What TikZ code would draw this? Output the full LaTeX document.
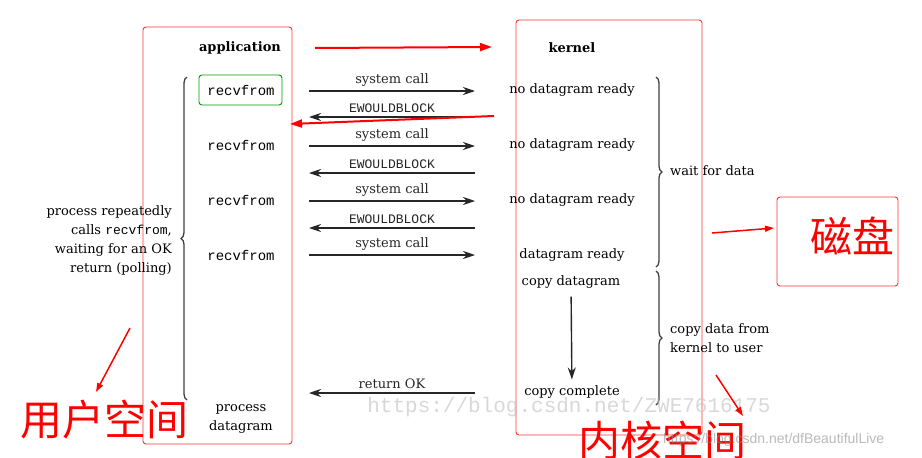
\documentclass[tikz,border=0pt]{standalone}
\usepackage{fontspec}
\setmainfont{DejaVu Serif}
\setmonofont{Liberation Mono}
\newfontfamily\cjk{Noto Sans CJK SC}
\newfontfamily\wmsans{Liberation Sans}
\usetikzlibrary{arrows.meta,positioning,decorations.pathreplacing}

\begin{document}
\begin{tikzpicture}[x=1pt, y=-1pt,
      txt/.style={inner sep=0pt, font=\fontsize{13}{19}\selectfont},
      hd/.style={inner sep=0pt, font=\bfseries\fontsize{13}{15}\selectfont},
      code/.style={inner sep=0pt, font=\ttfamily\fontsize{14}{16}\selectfont},
      err/.style={inner sep=0pt, font=\ttfamily\fontsize{13}{15}\selectfont},
      region/.style={draw=red!80, line width=0.9pt, rounded corners=3pt},
      cur/.style={draw=green!60!black, line width=0.9pt, rounded corners=3pt, inner sep=0pt},
      cjklabel/.style={inner sep=0pt, text=red, font=\cjk\fontsize{42}{44}\selectfont},
      call/.style={-{Stealth[length=12pt,width=8pt]}, line width=1.4pt, black!85},
      brace/.style={decorate, decoration={brace, amplitude=6pt}, line width=1.3pt, black!75},
      redarr/.style={-{Triangle[length=12pt,width=8pt]}, line width=2pt, red},
      redsmall/.style={-{Triangle[length=9pt,width=6pt]}, line width=1.5pt, red},
      wm/.style={inner sep=0pt, opacity=0.6}
    ]
    \useasboundingbox (0,0) rectangle (922,458);
    \fill[white] (0,0) rectangle (922,458);

    % the two address spaces and the disk
    \node[region, minimum width=149pt, minimum height=417pt] (appbox) at (217.5,235.5) {};
    \node[region, minimum width=186pt, minimum height=415pt] (kbox) at (609,227.5) {};
    \node[region, minimum width=121pt, minimum height=89pt] (diskbox) at (837.5,241.5) {};
    \node[cjklabel] (disk) at (852,236) {磁盘};

    % column heads
    \node[hd] (app) at (240,48) {application};
    \node[hd] (kern) at (572,48) {kernel};

    % application side
    \node[code] (rf1) at (241,90) {recvfrom};
    \node[cur, minimum width=83pt, minimum height=30pt] (rfbox) at (240.5,90) {};
    \node[code] (rf2) at (241,145) {recvfrom};
    \node[code] (rf3) at (241,200) {recvfrom};
    \node[code] (rf4) at (241,255) {recvfrom};
    \node[txt, align=center] (proc) at (241,419) {process\\datagram};

    \node[txt, align=right, anchor=east] (poll) at (172,241)
      {process repeatedly\\calls {\ttfamily recvfrom},\\waiting for an OK\\return (polling)};

    % kernel side
    \node[txt] (nd1) at (572,90) {no datagram ready};
    \node[txt] (nd2) at (572,145) {no datagram ready};
    \node[txt] (nd3) at (572,200) {no datagram ready};
    \node[txt] (dr) at (572,255) {datagram ready};
    \node[txt] (cd) at (571,282) {copy datagram};
    \node[txt] (cc) at (572,392) {copy complete};

    \node[txt, anchor=west] (wait) at (670,171) {wait for data};
    \node[txt, anchor=west, align=left] (copy) at (670,338) {copy data from\\kernel to user};

    % ends of the calls between the two columns
    \coordinate (c1a) at (309,91);  \coordinate (c1b) at (475,91);
    \coordinate (e1a) at (475,117); \coordinate (e1b) at (309,117);
    \coordinate (c2a) at (309,146); \coordinate (c2b) at (475,146);
    \coordinate (e2a) at (475,173); \coordinate (e2b) at (309,173);
    \coordinate (c3a) at (309,201); \coordinate (c3b) at (475,201);
    \coordinate (e3a) at (475,228); \coordinate (e3b) at (309,228);
    \coordinate (c4a) at (309,255); \coordinate (c4b) at (475,255);
    \coordinate (oka) at (475,393); \coordinate (okb) at (309,393);

    \draw[call] (c1a) -- node[txt, above=4pt]{system call} (c1b);
    \draw[call] (e1a) -- node[err, above=4pt]{EWOULDBLOCK} (e1b);
    \draw[call] (c2a) -- node[txt, above=4pt]{system call} (c2b);
    \draw[call] (e2a) -- node[err, above=4pt]{EWOULDBLOCK} (e2b);
    \draw[call] (c3a) -- node[txt, above=4pt]{system call} (c3b);
    \draw[call] (e3a) -- node[err, above=4pt]{EWOULDBLOCK} (e3b);
    \draw[call] (c4a) -- node[txt, above=4pt]{system call} (c4b);
    \draw[call] (oka) -- node[txt, above=4pt]{return OK} (okb);

    \draw[call, shorten <=8pt, shorten >=6pt] (cd) -- (cc);

    % braces
    \draw[brace] (187,400) -- (187,77);
    \draw[brace] (656,77) -- (656,267);
    \draw[brace] (656,271) -- (656,405);

    % watermarks
    \node[wm, text=black!25, font=\ttfamily\fontsize{21}{23}\selectfont] (wm1) at (569,407)
      {https://blog.csdn.net/ZWE7616175};

    % red annotations
    \node[cjklabel] (user) at (104,420) {用户空间};
    \node[cjklabel] (kspace) at (662,440) {内核空间};

    \node[wm, anchor=west, text=black!45, font=\wmsans\fontsize{14}{16}\selectfont] (wm2) at (663,440)
      {https://blog.csdn.net/dfBeautifulLive};

    \coordinate (r1a) at (315,48);  \coordinate (r1b) at (492,47);
    \coordinate (r2a) at (494,116); \coordinate (r2b) at (290,124);
    \coordinate (r3a) at (712,233); \coordinate (r3b) at (774,228);
    \coordinate (r4a) at (130,328); \coordinate (r4b) at (96,392);
    \coordinate (r5a) at (716,375); \coordinate (r5b) at (743,416);

    \draw[redarr] (r1a) -- (r1b);
    \draw[redarr] (r2a) -- (r2b);
    \draw[redsmall] (r3a) -- (r3b);
    \draw[redsmall] (r4a) -- (r4b);
    \draw[redsmall] (r5a) -- (r5b);
  \end{tikzpicture}
\end{document}
